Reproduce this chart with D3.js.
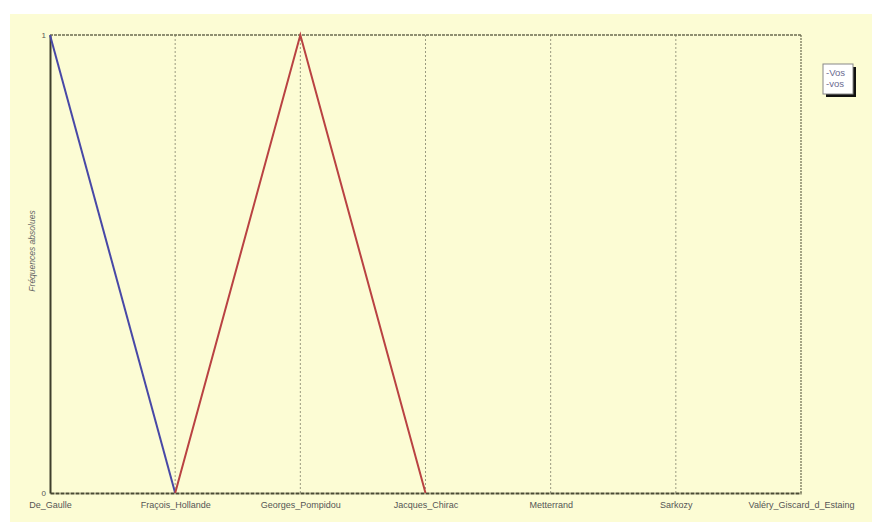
<!DOCTYPE html>
<html>
<head>
<meta charset="utf-8">
<script src="https://cdn.jsdelivr.net/npm/d3@7"></script>
<style>
  body { margin: 0; background: #fff; }
  svg { display: block; font-family: Arial, "Liberation Sans", sans-serif; }
</style>
</head>
<body>
<div id="chart"></div>
<script>
// categories (x)
var presidents = ["De_Gaulle", "Fraçois_Hollande", "Georges_Pompidou", "Jacques_Chirac",
                  "Metterrand", "Sarkozy", "Valéry_Giscard_d_Estaing"];
// series, null = not drawn
var serieVos = [1, 0, null, null, null, null, null];
var serievos = [null, 0, 1, 0, null, null, null];
var seriesNames = ["Vos", "vos"];
var yTicks = [0, 1];

var width = 872, height = 525;
var margin = {left: 50, right: 71, top: 35, bottom: 32};

var svg = d3.select("#chart").append("svg")
    .attr("width", width)
    .attr("height", height);

// fond jaune
svg.append("rect")
    .attr("x", 10).attr("y", 14)
    .attr("width", width - 10).attr("height", 508)
    .attr("fill", "#fcfcd4");

var x = d3.scalePoint()
    .domain(presidents)
    .range([margin.left, width - margin.right]);

var y = d3.scaleLinear()
    .domain([0, 1])
    .range([height - margin.bottom, margin.top]);

// grille verticale
svg.append("g").selectAll("line")
    .data(presidents.slice(1, -1))
    .enter().append("line")
    .attr("x1", d => x(d)).attr("x2", d => x(d))
    .attr("y1", y(1)).attr("y2", y(0))
    .attr("stroke", "#9a9a80")
    .attr("stroke-width", 1)
    .attr("stroke-dasharray", "2,2");

// cadre haut et droit
svg.append("line")
    .attr("x1", x.range()[0]).attr("x2", x.range()[1])
    .attr("y1", y(1)).attr("y2", y(1))
    .attr("stroke", "#6b6b50").attr("stroke-width", 1.3)
    .attr("stroke-dasharray", "3,1");
svg.append("line")
    .attr("x1", x.range()[1]).attr("x2", x.range()[1])
    .attr("y1", y(1)).attr("y2", y(0))
    .attr("stroke", "#6b6b50").attr("stroke-width", 1.2)
    .attr("stroke-dasharray", "2,1");

// axe bas
var xAxis = svg.append("g")
    .attr("transform", "translate(0," + y(0) + ")")
    .call(d3.axisBottom(x).tickSize(0).tickPadding(9));
xAxis.select(".domain")
    .attr("stroke", "#4a4a35").attr("stroke-width", 1.8)
    .attr("stroke-dasharray", "4,1");
xAxis.selectAll("text")
    .attr("fill", "#555").style("font-size", "9px");

// axe gauche
var yAxis = svg.append("g")
    .attr("transform", "translate(" + margin.left + ",0)")
    .call(d3.axisLeft(y).tickValues(yTicks).tickFormat(d3.format("d")).tickSize(0).tickPadding(4));
yAxis.select(".domain")
    .attr("stroke", "#3e3e2c").attr("stroke-width", 2);
yAxis.selectAll("text")
    .attr("fill", "#555").style("font-size", "8px");

// titre axe y
svg.append("text")
    .attr("transform", "translate(35,251) rotate(-90)")
    .attr("text-anchor", "middle")
    .style("font-size", "8.5px")
    .style("font-style", "italic")
    .attr("fill", "#666")
    .text("Fréquences absolues");

// courbes
var line = d3.line()
    .defined(d => d.v !== null)
    .x(d => x(d.p))
    .y(d => y(d.v));

var series = [
    {name: seriesNames[0], values: serieVos, color: "#4848a6"},
    {name: seriesNames[1], values: serievos, color: "#b94242"}
];

svg.selectAll(".serie")
    .data(series)
    .enter().append("path")
    .attr("class", "serie")
    .attr("fill", "none")
    .attr("stroke", d => d.color)
    .attr("stroke-width", 2)
    .attr("d", d => line(d.values.map((v, i) => ({p: presidents[i], v: v}))));

// légende
var legend = svg.append("g").attr("transform", "translate(823,64)");
legend.append("rect")
    .attr("x", 3).attr("y", 3).attr("width", 30).attr("height", 30)
    .attr("fill", "#111");
legend.append("rect")
    .attr("width", 30).attr("height", 30)
    .attr("fill", "#fff")
    .attr("stroke", "#888").attr("stroke-width", 1);
legend.selectAll("text")
    .data(series)
    .enter().append("text")
    .attr("x", 3)
    .attr("y", (d, i) => 12 + i * 11)
    .style("font-size", "9.5px")
    .attr("fill", "#6a6a90")
    .text(d => "-" + d.name);
</script>
</body>
</html>
